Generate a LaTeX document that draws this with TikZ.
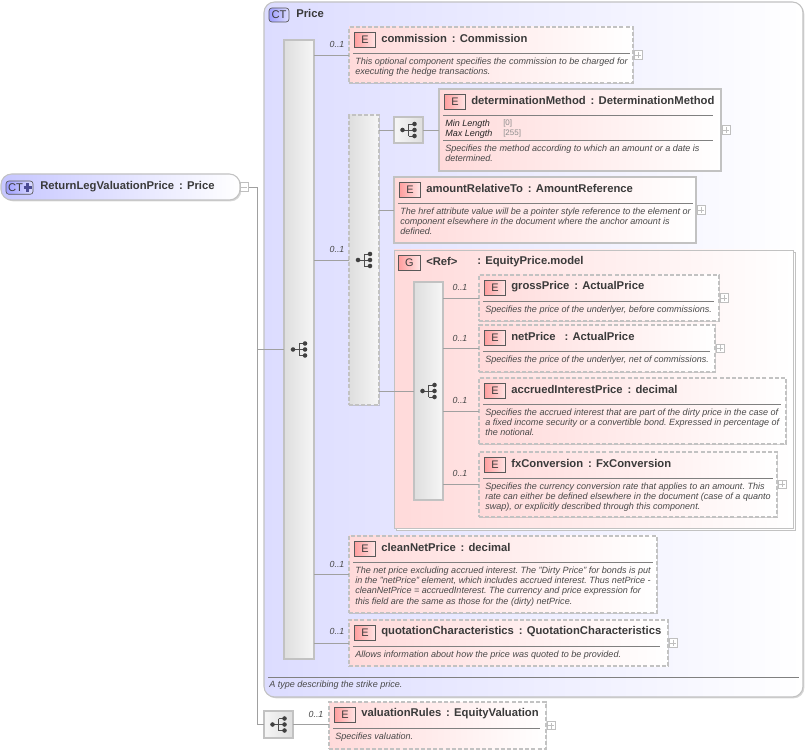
\documentclass[tikz,border=0pt]{standalone}
\usepackage{fontspec}
\setmainfont{Liberation Sans}
\usetikzlibrary{calc,shadows}
\definecolor{bordc}{HTML}{C2C2C2}
\definecolor{linec}{HTML}{A0A0A0}
\definecolor{titc}{HTML}{3A3A3A}
\definecolor{descc}{HTML}{484848}
\definecolor{pinkc}{HTML}{FFDADA}
\definecolor{bluec}{HTML}{DCDCFF}
\definecolor{grayl}{HTML}{DEDEDE}
\definecolor{grayr}{HTML}{F6F6F6}
\tikzset{
  shad/.style={drop shadow={shadow xshift=1pt,shadow yshift=-1pt,fill=black,opacity=.16}},
  anybox/.style={rectangle,inner sep=0pt,outer sep=0pt,anchor=north west,draw=bordc,line width=.8pt,shad},
  elembox/.style={anybox,left color=pinkc,right color=white},
  dashb/.style={dash pattern=on 3pt off 1.6pt},
  barbox/.style={anybox,left color=grayl,right color=grayr},
  compbox/.style={anybox,left color=grayr,right color=grayl},
  badge/.style={rectangle,inner sep=0pt,outer sep=0pt,anchor=north west,draw=black!65,line width=.5pt,
     left color=red!38!white,right color=pinkc!70,text=titc,font=\fontsize{8.2pt}{8pt}\selectfont},
  ctbadge/.style={rectangle,rounded corners=2.2pt,inner sep=0pt,outer sep=0pt,anchor=north west,draw=black!65,line width=.5pt,
     left color=blue!38!white,right color=bluec,text=titc,font=\fontsize{8.4pt}{8pt}\selectfont},
  titlet/.style={inner sep=0pt,anchor=west,text=titc,font=\bfseries\fontsize{8.45pt}{9pt}\selectfont},
  desct/.style={inner sep=0pt,anchor=north west,align=left,text=descc,font=\itshape\fontsize{6.78pt}{7.75pt}\selectfont},
  occt/.style={inner sep=0pt,anchor=center,text=descc,font=\itshape\fontsize{6.6pt}{7pt}\selectfont},
  rulel/.style={draw=black!50,line width=.5pt},
  conn/.style={draw=linec,line width=.6pt},
  expbox/.style={rectangle,draw=black!25,fill=white,line width=.5pt,inner sep=0pt,outer sep=0pt,minimum width=6.4pt,minimum height=6.4pt}
}
\newcommand\sepc{\hspace{3.6pt}:\hspace{3.2pt}}
% id x1 y1 x2 y2 style title rule-inset desc-offset
\newcommand\elem[9]{%
  \node[elembox,#6,minimum width={(#4-#2)*0.75pt},minimum height={(#5-#3)*0.75pt}] (#1) at (#2,#3) {};
  \node[badge,minimum width=15.6pt,minimum height=11pt] (#1-b) at ($(#1.north west)+(5.5,5.5)$) {E};
  \node[titlet] (#1-t) at ($(#1.north west)+(32,11.6)$) {#7};
  \draw[rulel] ($(#1.north west)+(4,26)$) -- ($(#1.north east)+(-#8,26)$);
  \node[desct] (#1-d) at ($(#1.north west)+(6,#9)$) {\descbody};
}
\newcommand\descbody{}
\newcommand\plusbox[1]{%
  \node[expbox,anchor=west] (#1-x) at ($(#1.east)+(1,0)$) {};
  \draw[draw=black!25,line width=.4pt] ($(#1-x.center)+(-3,0)$) -- ($(#1-x.center)+(3,0)$);
  \draw[draw=black!25,line width=.4pt] ($(#1-x.center)+(0,-3)$) -- ($(#1-x.center)+(0,3)$);
}
\newcommand\seqicon[1]{%
  \begin{scope}[shift={(#1.center)}]
    \draw[draw=black!70,line width=.6pt] (-6,0) -- (0,0) (0,-6) -- (0,6) (0,-6) -- (6,-6) (0,0) -- (6,0) (0,6) -- (6,6);
    \fill[black!75] (-6,0) circle (1.7pt) (6,-6) circle (1.7pt) (6,0) circle (1.7pt) (6,6) circle (1.7pt);
  \end{scope}
}
\newcommand\occ[3]{\node[occt] (#1) at (#2,#3) {0..1};}
\begin{document}
\frenchspacing
\begin{tikzpicture}[x=0.75pt,y=-0.75pt]
\useasboundingbox (0,0) rectangle (808,752);
\fill[white] (0,0) rectangle (808,752);
% root
\node[anybox,rounded corners=8pt,left color=bluec!90!blue,right color=white,minimum width={239*0.75pt},minimum height={26*0.75pt}] (root) at (1,174) {};
\node[ctbadge,minimum width=20.3pt,minimum height=10pt] (root-b) at (6,181) {\hspace{-6pt}CT};
\draw[draw=black!60!blue!70,line width=1.9pt] (23.5,187.5) -- (32,187.5) (27.75,183.3) -- (27.75,191.7);
\node[titlet] (root-t) at (40,186.4) {ReturnLegValuationPrice\sepc Price};
\node[expbox,anchor=west] (root-x) at (root.east) {};
\draw[draw=black!25,line width=.4pt] ($(root-x.center)+(-3,0)$) -- ($(root-x.center)+(3,0)$);
% main type
\node[anybox,rounded corners=8pt,left color=bluec,right color=white,minimum width={539*0.75pt},minimum height={695*0.75pt}] (ct) at (264,2) {};
\node[ctbadge,minimum width=15pt,minimum height=10.5pt] (ct-b) at (269,8) {CT};
\node[titlet] (ct-t) at (296,13.6) {Price};
\node[barbox,minimum width={30*0.75pt},minimum height={619*0.75pt}] (seq) at (284,40) {};
\node[barbox,dashb,minimum width={30*0.75pt},minimum height={290*0.75pt}] (choice) at (349,115) {};
\node[compbox,minimum width={29*0.75pt},minimum height={26*0.75pt}] (comp1) at (394,117) {};
% commission
\renewcommand\descbody{This optional component specifies the commission to be charged for\\executing the hedge transactions.}
\elem{commission}{349}{27}{633}{83}{dashb}{commission\sepc Commission}{3}{30.3}
\plusbox{commission}
% determinationMethod
\renewcommand\descbody{Specifies the method according to which an amount or a date is\\determined.}
\elem{determ}{439}{89}{721}{171}{}{determinationMethod\sepc DeterminationMethod}{8}{55.3}
\plusbox{determ}
\draw[rulel] ($(determ.north west)+(4,51)$) -- ($(determ.north east)+(-8,51)$);
\node[desct,text=black!85] (determ-m) at ($(determ.north west)+(6,30.3)$) {Min Length\\Max Length};
\node[desct,font=\fontsize{6pt}{7.75pt}\selectfont,text=black!45] (determ-v) at ($(determ.north west)+(64,30.3)$) {[0]\\{[255]}};
% amountRelativeTo
\renewcommand\descbody{The href attribute value will be a pointer style reference to the element or\\component elsewhere in the document where the anchor amount is\\defined.}
\elem{amount}{394}{177}{696}{243}{}{amountRelativeTo\sepc AmountReference}{3}{30.3}
\plusbox{amount}
% group
\node[anybox,fill=white,line width=.6pt,minimum width={399*0.75pt},minimum height={278*0.75pt}] (groupback) at (396,252) {};
\node[elembox,line width=.6pt,minimum width={399*0.75pt},minimum height={278*0.75pt}] (group) at (394,250) {};
\node[badge,minimum width=16.4pt,minimum height=11pt] (group-b) at (398.5,255.5) {G};
\node[titlet] (group-r) at (426,261.6) {<Ref>};
\node[titlet] (group-t) at (477,261.6) {:\hspace{3.2pt}EquityPrice.model};
\node[barbox,minimum width={29*0.75pt},minimum height={218*0.75pt}] (inner) at (414,282) {};
% group children
\renewcommand\descbody{Specifies the price of the underlyer, before commissions.}
\elem{gross}{479}{275}{719}{321}{dashb}{grossPrice\sepc ActualPrice}{5}{30.3}
\plusbox{gross}
\renewcommand\descbody{Specifies the price of the underlyer, net of commissions.}
\elem{net}{479}{325}{715}{372}{dashb}{netPrice\hspace{3pt}\sepc ActualPrice}{5}{30.3}
\plusbox{net}
\renewcommand\descbody{Specifies the accrued interest that are part of the dirty price in the case of\\a fixed income security or a convertible bond. Expressed in percentage of\\the notional.}
\elem{accrued}{479}{378}{786}{444}{dashb}{accruedInterestPrice\sepc decimal}{5}{30.3}
\renewcommand\descbody{Specifies the currency conversion rate that applies to an amount. This\\rate can either be defined elsewhere in the document (case of a quanto\\swap), or explicitly described through this component.}
\elem{fx}{479}{452}{777}{517}{dashb}{fxConversion\sepc FxConversion}{4}{30.3}
\plusbox{fx}
% clean
\renewcommand\descbody{The net price excluding accrued interest. The "Dirty Price" for bonds is put\\in the "netPrice" element, which includes accrued interest. Thus netPrice -\\cleanNetPrice = accruedInterest. The currency and price expression for\\this field are the same as those for the (dirty) netPrice.}
\elem{clean}{349}{536}{657}{613}{dashb}{cleanNetPrice\sepc decimal}{4}{30.3}
\renewcommand\descbody{Allows information about how the price was quoted to be provided.}
\elem{quot}{349}{620}{668}{666}{dashb}{quotationCharacteristics\sepc QuotationCharacteristics}{8}{30.3}
\plusbox{quot}
% footer of type
\coordinate (ctl) at ($(ct.south west)+(4,-20)$);
\coordinate (ctr) at ($(ct.south east)+(-4,-20)$);
\draw[rulel] (ctl) -- (ctr);
\node[desct] (ct-d) at ($(ct.south west)+(5,-16.5)$) {A type describing the strike price.};
% valuation
\node[compbox,minimum width={29*0.75pt},minimum height={27*0.75pt}] (comp2) at (264,711) {};
\renewcommand\descbody{Specifies valuation.}
\elem{valuation}{329}{702}{546}{749}{dashb}{valuationRules\sepc EquityValuation}{6}{30.3}
\plusbox{valuation}
% icons
\seqicon{seq}\seqicon{choice}\seqicon{comp1}\seqicon{inner}\seqicon{comp2}
% occurrences
\occ{o1}{337}{44}\occ{o2}{337}{249}\occ{o3}{460}{287}\occ{o4}{460}{338}\occ{o5}{460}{400}\occ{o6}{460}{473}\occ{o7}{337}{564}\occ{o8}{337}{631}\occ{o9}{316}{714}
% connectors
\coordinate (trunk) at (257,187);
\draw[conn] (root-x.east) -- (trunk) -- (trunk |- comp2.west) -- (comp2.west);
\draw[conn] (trunk |- seq.west) -- (seq.west);
\draw[conn] (seq.east |- commission.west) -- (commission.west);
\draw[conn] (seq.east |- choice.west) -- (choice.west);
\draw[conn] (seq.east |- clean.west) -- (clean.west);
\draw[conn] (seq.east |- quot.west) -- (quot.west);
\draw[conn] (choice.east |- comp1.west) -- (comp1.west);
\draw[conn] (comp1.east) -- (comp1.east -| determ.west);
\draw[conn] (choice.east |- amount.west) -- (amount.west);
\draw[conn] (choice.east |- inner.west) -- (inner.west);
\draw[conn] (inner.east |- gross.west) -- (gross.west);
\draw[conn] (inner.east |- net.west) -- (net.west);
\draw[conn] (inner.east |- accrued.west) -- (accrued.west);
\draw[conn] (inner.east |- fx.west) -- (fx.west);
\draw[conn] (comp2.east) -- (comp2.east -| valuation.west);
\end{tikzpicture}
\end{document}
